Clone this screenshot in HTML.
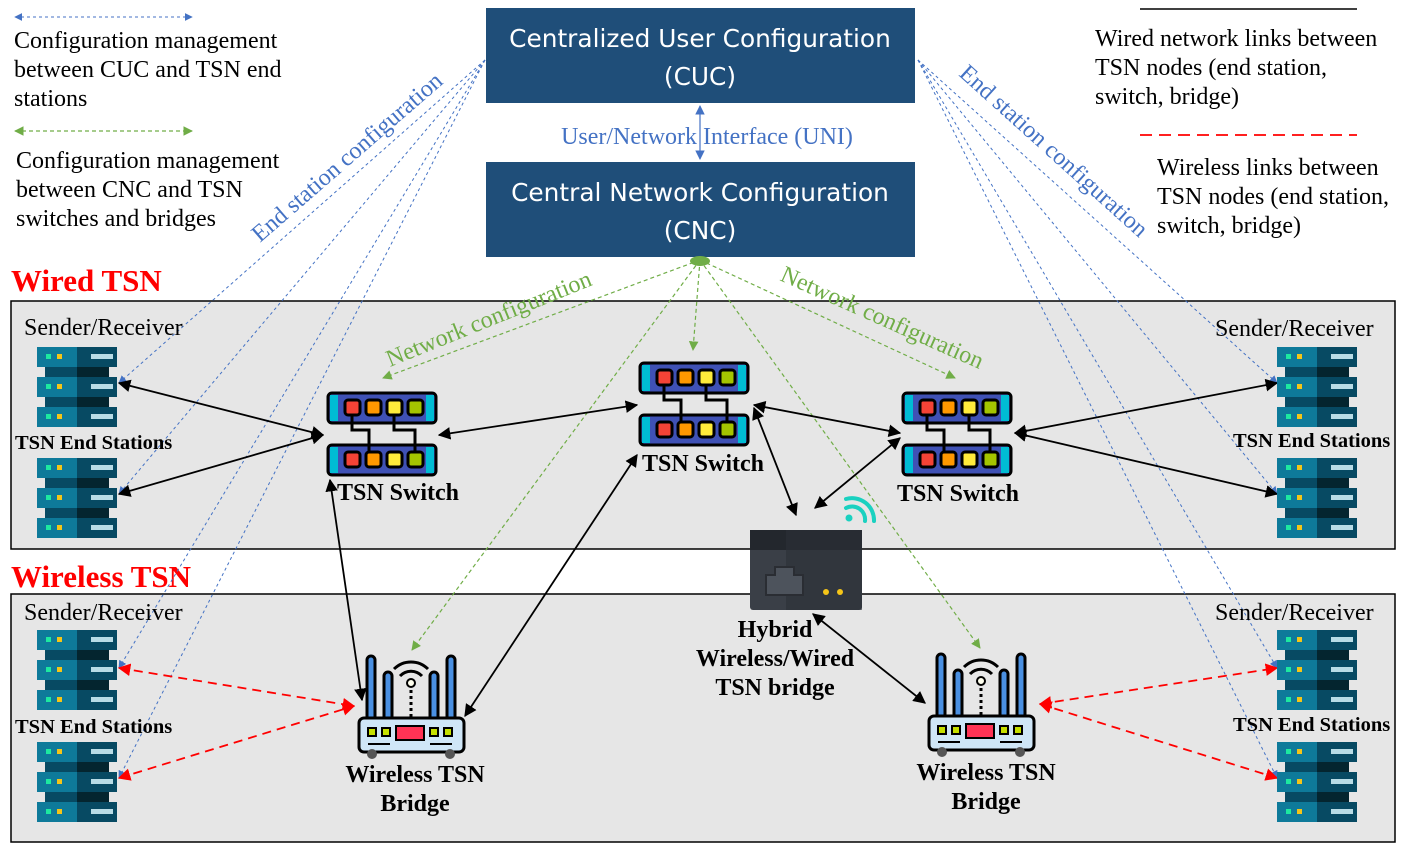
<!DOCTYPE html>
<html><head><meta charset="utf-8"><style>
body{margin:0;background:#fff}
svg{display:block;font-family:"Liberation Serif",serif}
</style></head><body>
<svg width="1406" height="854" viewBox="0 0 1406 854" xmlns="http://www.w3.org/2000/svg">
<defs>
<marker id="ak" viewBox="0 0 10 10" refX="9" refY="5" markerWidth="7" markerHeight="7" orient="auto-start-reverse"><path d="M0,0L10,5L0,10z" fill="#000"/></marker>
<marker id="ar" viewBox="0 0 10 10" refX="9" refY="5" markerWidth="7" markerHeight="7" orient="auto-start-reverse"><path d="M0,0L10,5L0,10z" fill="#f00"/></marker>
<marker id="ab" viewBox="0 0 10 10" refX="9" refY="5" markerWidth="8" markerHeight="8" orient="auto-start-reverse"><path d="M0,0L10,5L0,10z" fill="#4472c4"/></marker>
<marker id="ag" viewBox="0 0 10 10" refX="9" refY="5" markerWidth="8" markerHeight="8" orient="auto-start-reverse"><path d="M0,0L10,5L0,10z" fill="#70ad47"/></marker>
<g id="srv">
 <rect x="0" y="0" width="80" height="20" fill="#0e7a9a"/><rect x="40" y="0" width="40" height="20" fill="#074a63"/>
 <rect x="8" y="20" width="64" height="10" fill="#074a63"/><rect x="40" y="20" width="32" height="10" fill="#04252f"/>
 <rect x="0" y="30" width="80" height="20" fill="#0e7a9a"/><rect x="40" y="30" width="40" height="20" fill="#074a63"/>
 <rect x="8" y="50" width="64" height="10" fill="#074a63"/><rect x="40" y="50" width="32" height="10" fill="#04252f"/>
 <rect x="0" y="60" width="80" height="20" fill="#0e7a9a"/><rect x="40" y="60" width="40" height="20" fill="#074a63"/>
 <g fill="#1de9a0"><rect x="9" y="7" width="5" height="5"/><rect x="9" y="37" width="5" height="5"/><rect x="9" y="67" width="5" height="5"/></g>
 <g fill="#f5c518"><rect x="20" y="7" width="5" height="5"/><rect x="20" y="37" width="5" height="5"/><rect x="20" y="67" width="5" height="5"/></g>
 <g fill="#b8dce6"><rect x="54" y="7" width="22" height="5"/><rect x="54" y="37" width="22" height="5"/><rect x="54" y="67" width="22" height="5"/></g>
</g>
<g id="row">
 <rect x="1" y="1" width="108" height="30" rx="4" fill="#3f51b5" stroke="#000" stroke-width="3"/>
 <rect x="3" y="3" width="8" height="26" fill="#00bcd4"/><rect x="99" y="3" width="8" height="26" fill="#00bcd4"/>
 <rect x="18" y="8" width="15" height="15" rx="3" fill="#f44336" stroke="#000" stroke-width="3"/>
 <rect x="39" y="8" width="15" height="15" rx="3" fill="#ff9800" stroke="#000" stroke-width="3"/>
 <rect x="60" y="8" width="15" height="15" rx="3" fill="#ffeb3b" stroke="#000" stroke-width="3"/>
 <rect x="81" y="8" width="15" height="15" rx="3" fill="#a4c400" stroke="#000" stroke-width="3"/>
</g>
<g id="sw">
 <use href="#row"/><use href="#row" y="52"/>
 <path d="M25,23 V38 H42 V60 M67,23 V38 H88 V60" fill="none" stroke="#000" stroke-width="3"/>
</g>
<g id="rt">
 <g fill="#4a90e2" stroke="#000" stroke-width="3">
 <rect x="9" y="4" width="8" height="72" rx="4"/><rect x="26" y="20" width="8" height="56" rx="4"/>
 <rect x="72" y="20" width="8" height="56" rx="4"/><rect x="89" y="4" width="8" height="72" rx="4"/></g>
 <path d="M36,17 a24,24 0 0 1 34,0 M42,24 a15,15 0 0 1 22,0" fill="none" stroke="#000" stroke-width="3"/>
 <circle cx="53" cy="31" r="4" fill="#ffe" stroke="#000" stroke-width="2"/>
 <path d="M53,38 V70" stroke="#000" stroke-width="3" stroke-dasharray="3,3"/>
 <rect x="1" y="66" width="105" height="34" rx="5" fill="#cfe6f7" stroke="#000" stroke-width="3"/>
 <rect x="38" y="74" width="28" height="14" fill="#ff3355" stroke="#000" stroke-width="2"/>
 <g fill="#c6e000" stroke="#000" stroke-width="2"><rect x="10" y="76" width="8" height="8"/><rect x="24" y="76" width="8" height="8"/><rect x="72" y="76" width="8" height="8"/><rect x="86" y="76" width="8" height="8"/></g>
 <path d="M10,92h22M72,92h22" stroke="#000" stroke-width="2"/>
 <circle cx="14" cy="102" r="5" fill="#555"/><circle cx="92" cy="102" r="5" fill="#555"/>
</g>
</defs>

<rect x="11" y="301" width="1384" height="248" fill="#e6e6e6" stroke="#000" stroke-width="1.5"/>
<rect x="11" y="594" width="1384" height="248" fill="#e6e6e6" stroke="#000" stroke-width="1.5"/>
<text x="11" y="291" font-size="31" font-weight="bold" fill="#f00">Wired TSN</text>
<text x="11" y="587" font-size="31" font-weight="bold" fill="#f00">Wireless TSN</text>

<rect x="486" y="8" width="429" height="95" fill="#1f4e79"/>
<rect x="486" y="162" width="429" height="95" fill="#1f4e79"/>
<g font-family="DejaVu Sans,Liberation Sans,sans-serif" font-size="24.8" fill="#fff" text-anchor="middle">
<text x="700" y="47">Centralized User Configuration</text><text x="700" y="85">(CUC)</text>
<text x="700" y="201">Central Network Configuration</text><text x="700" y="239">(CNC)</text></g>
<line x1="700" y1="106" x2="700" y2="159" stroke="#4472c4" stroke-width="1.2" marker-start="url(#ab)" marker-end="url(#ab)"/>
<text x="707" y="144" font-size="24" fill="#4472c4" text-anchor="middle">User/Network Interface (UNI)</text>

<g stroke="#4472c4" stroke-width="1" stroke-dasharray="3,3" fill="none" marker-end="url(#ab)">
<line x1="485" y1="60" x2="119" y2="383"/><line x1="485" y1="60" x2="119" y2="494"/>
<line x1="485" y1="60" x2="119" y2="668"/><line x1="485" y1="60" x2="119" y2="778"/>
<line x1="918" y1="60" x2="1277" y2="383"/><line x1="918" y1="60" x2="1277" y2="494"/>
<line x1="918" y1="60" x2="1277" y2="668"/><line x1="918" y1="60" x2="1277" y2="778"/>
</g>
<g stroke="#70ad47" stroke-width="1.2" stroke-dasharray="4,3" fill="none" marker-end="url(#ag)">
<line x1="700" y1="260" x2="383" y2="378"/><line x1="700" y1="260" x2="693" y2="350"/>
<line x1="700" y1="260" x2="955" y2="378"/><line x1="700" y1="260" x2="412" y2="650"/>
<line x1="700" y1="260" x2="980" y2="648"/></g>
<ellipse cx="700" cy="261" rx="10" ry="5" fill="#70ad47"/>

<g font-size="24">
<text transform="translate(260,243) rotate(-41)" fill="#4472c4">End station configuration</text>
<text transform="translate(958,75) rotate(42)" fill="#4472c4">End station configuration</text>
<text transform="translate(390,367) rotate(-22)" fill="#70ad47">Network configuration</text>
<text transform="translate(779,280) rotate(24)" fill="#70ad47">Network configuration</text></g>

<g stroke="#000" stroke-width="1.8" fill="none" marker-start="url(#ak)" marker-end="url(#ak)">
<line x1="119" y1="383" x2="323" y2="435"/><line x1="119" y1="494" x2="323" y2="435"/>
<line x1="439" y1="435" x2="637" y2="405"/><line x1="754" y1="405" x2="900" y2="433"/>
<line x1="1015" y1="433" x2="1277" y2="383"/><line x1="1015" y1="433" x2="1277" y2="494"/>
<line x1="754" y1="408" x2="796" y2="515"/><line x1="900" y1="438" x2="815" y2="508"/>
<line x1="330" y1="480" x2="362" y2="700"/><line x1="637" y1="455" x2="465" y2="716"/>
<line x1="813" y1="614" x2="925" y2="703"/></g>
<g stroke="#f00" stroke-width="1.8" stroke-dasharray="9,6" fill="none" marker-start="url(#ar)" marker-end="url(#ar)">
<line x1="119" y1="668" x2="354" y2="706"/><line x1="119" y1="778" x2="354" y2="706"/>
<line x1="1040" y1="704" x2="1277" y2="668"/><line x1="1040" y1="704" x2="1277" y2="778"/></g>

<use href="#srv" x="37" y="347"/><use href="#srv" x="37" y="458"/>
<use href="#srv" x="37" y="630"/><use href="#srv" x="37" y="742"/>
<use href="#srv" x="1277" y="347"/><use href="#srv" x="1277" y="458"/>
<use href="#srv" x="1277" y="630"/><use href="#srv" x="1277" y="742"/>
<use href="#sw" x="327" y="392"/><use href="#sw" x="639" y="362"/><use href="#sw" x="902" y="392"/>
<use href="#rt" x="358" y="652"/><use href="#rt" x="928" y="650"/>
<rect x="750" y="530" width="112" height="80" rx="3" fill="#3a3f47"/>
<rect x="750" y="530" width="112" height="20" fill="#23272d"/>
<rect x="786" y="530" width="76" height="80" fill="#2c3037" opacity="0.6"/>
<path d="M766,595 V575 H775 V567 H794 V575 H803 V595z" fill="#4d535c" stroke="#2a2d33" stroke-width="2"/>
<circle cx="826" cy="592" r="3" fill="#f5c518"/><circle cx="840" cy="592" r="3" fill="#f5c518"/>
<g fill="none" stroke="#1ad1c0" stroke-width="4" stroke-linecap="round">
<path d="M846,499 a22,22 0 0 1 28,22"/><path d="M846,508 a13,13 0 0 1 19,13"/></g>
<circle cx="849" cy="518" r="3.5" fill="#1ad1c0"/>

<g font-size="24" fill="#000">
<text x="24" y="335">Sender/Receiver</text><text x="1215" y="336">Sender/Receiver</text>
<text x="24" y="620">Sender/Receiver</text><text x="1215" y="620">Sender/Receiver</text></g>
<g font-size="20.5" font-weight="bold" fill="#000">
<text x="15" y="449">TSN End Stations</text><text x="1233" y="447">TSN End Stations</text>
<text x="15" y="733">TSN End Stations</text><text x="1233" y="731">TSN End Stations</text></g>
<g font-size="24" font-weight="bold" fill="#000" text-anchor="middle">
<text x="398" y="500">TSN Switch</text><text x="703" y="471">TSN Switch</text><text x="958" y="501">TSN Switch</text>
<text x="415" y="782">Wireless TSN</text><text x="415" y="811">Bridge</text>
<text x="986" y="780">Wireless TSN</text><text x="986" y="809">Bridge</text>
<text x="775" y="637">Hybrid</text><text x="775" y="666">Wireless/Wired</text><text x="775" y="695">TSN bridge</text></g>

<line x1="15" y1="17" x2="192" y2="17" stroke="#4472c4" stroke-width="1" stroke-dasharray="3,3" marker-start="url(#ab)" marker-end="url(#ab)"/>
<line x1="15" y1="131" x2="192" y2="131" stroke="#70ad47" stroke-width="1.2" stroke-dasharray="4,3" marker-start="url(#ag)" marker-end="url(#ag)"/>
<g font-size="24" fill="#000">
<text x="14" y="48">Configuration management</text><text x="14" y="77">between CUC and TSN end</text><text x="14" y="106">stations</text>
<text x="16" y="168">Configuration management</text><text x="16" y="197">between CNC and TSN</text><text x="16" y="226">switches and bridges</text>
<text x="1095" y="46">Wired network links between</text><text x="1095" y="75">TSN nodes (end station,</text><text x="1095" y="104">switch, bridge)</text>
<text x="1157" y="175">Wireless links between</text><text x="1157" y="204">TSN nodes (end station,</text><text x="1157" y="233">switch, bridge)</text></g>
<line x1="1140" y1="9" x2="1357" y2="9" stroke="#000" stroke-width="1.5"/>
<line x1="1140" y1="135" x2="1357" y2="135" stroke="#f00" stroke-width="1.8" stroke-dasharray="12,7"/>
</svg>
</body></html>
